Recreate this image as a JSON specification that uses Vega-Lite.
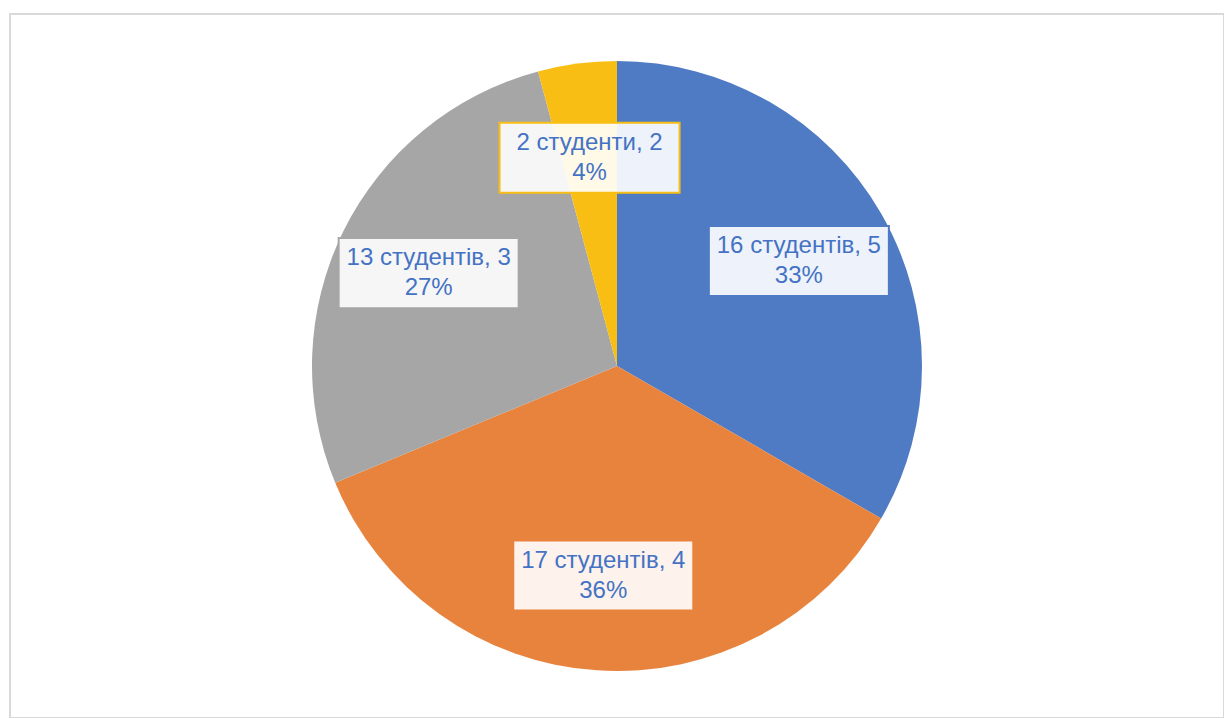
{
  "$schema": "https://vega.github.io/schema/vega-lite/v6.json",
  "width": 1224,
  "height": 718,
  "autosize": {"type": "fit", "contains": "padding"},
  "padding": {"left": 10, "top": 14, "right": 0, "bottom": 0},
  "background": "white",
  "config": {"view": {"stroke": "#D9D9D9", "strokeWidth": 2}},
  "data": {
    "values": [
      {"grade": "5", "count": 16, "order": 1, "label": "16 студентів, 5\n33%"},
      {"grade": "4", "count": 17, "order": 2, "label": "17 студентів, 4\n36%"},
      {"grade": "3", "count": 13, "order": 3, "label": "13 студентів, 3\n27%"},
      {"grade": "2", "count": 2, "order": 4, "label": "2 студенти, 2\n4%"}
    ]
  },
  "transform": [
    {"joinaggregate": [{"op": "sum", "field": "count", "as": "total"}]},
    {"window": [{"op": "sum", "field": "count", "as": "cum"}], "sort": [{"field": "order"}], "frame": [null, 0]},
    {"calculate": "2*PI*(datum.cum - datum.count/2)/datum.total", "as": "ang"},
    {"calculate": "210*sin(datum.ang)", "as": "px"},
    {"calculate": "210*cos(datum.ang)", "as": "py"}
  ],
  "layer": [
    {
      "mark": {"type": "arc", "outerRadius": 305, "stroke": null},
      "encoding": {
        "theta": {"field": "count", "type": "quantitative", "stack": true},
        "order": {"field": "order", "type": "quantitative"},
        "color": {
          "field": "grade", "type": "nominal",
          "scale": {"domain": ["5", "4", "3", "2"], "range": ["#4F7BC5", "#E8833E", "#A6A6A6", "#F9BE14"]},
          "legend": null
        }
      }
    },
    {
      "mark": {"type": "point", "shape": "M-1,-0.389H1V0.389H-1Z", "filled": true, "fill": "white", "fillOpacity": 0.9, "strokeWidth": 2, "strokeOpacity": 1, "size": 32400},
      "encoding": {
        "x": {"field": "px", "type": "quantitative", "scale": {"domain": [-607, 607], "nice": false, "zero": false}, "axis": null},
        "y": {"field": "py", "type": "quantitative", "scale": {"domain": [-352, 352], "nice": false, "zero": false}, "axis": null},
        "stroke": {
          "field": "grade", "type": "nominal",
          "scale": {"domain": ["5", "4", "3", "2"], "range": ["#4F7BC5", "#E8833E", "#A6A6A6", "#F9BE14"]},
          "legend": null
        }
      }
    },
    {
      "mark": {"type": "text", "font": "Liberation Sans", "fontSize": 24, "color": "#4472C4", "lineBreak": "\n", "lineHeight": 30, "align": "center", "baseline": "middle", "dy": -15},
      "encoding": {
        "x": {"field": "px", "type": "quantitative"},
        "y": {"field": "py", "type": "quantitative"},
        "text": {"field": "label", "type": "nominal"}
      }
    }
  ]
}
